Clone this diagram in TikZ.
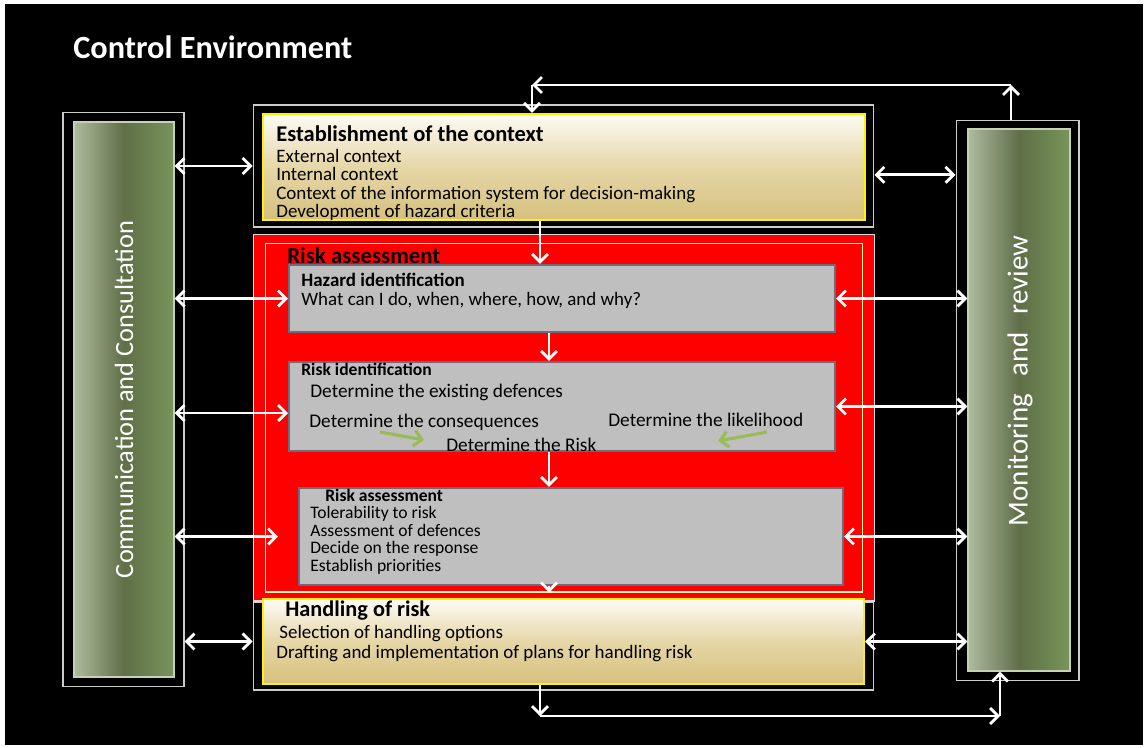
\documentclass[tikz,border=0pt]{standalone}
\usepackage{fontspec}
\setmainfont{Carlito}
\usetikzlibrary{arrows.meta}
\definecolor{greenL}{HTML}{AEBB9F}
\definecolor{greenM}{HTML}{5F6F48}
\definecolor{greenR}{HTML}{78955A}
\definecolor{greenE}{HTML}{C5D2B4}
\definecolor{goldT}{HTML}{FDFBF5}
\definecolor{goldM}{HTML}{E6D7A8}
\definecolor{goldB}{HTML}{D5C07C}
\definecolor{greyF}{HTML}{BFBFBF}
\definecolor{greyE}{HTML}{6C6C7E}
\definecolor{greenA}{HTML}{9BBB59}
\begin{document}
\begin{tikzpicture}[auto,x=0.02cm,y=-0.02cm,>={Straight Barb[length=4.5pt,width=9pt]}]
    \tikzstyle{frame} = [draw=white!80!black,line width=0.6pt,fill=black,rectangle,inner sep=0pt]
    \tikzstyle{greenbox} = [draw=greenE,line width=0.8pt,rectangle,inner sep=0pt,left color=greenL,right color=greenR,middle color=greenM]
    \tikzstyle{goldbox} = [draw=yellow,line width=1.2pt,rectangle,inner sep=0pt,top color=goldT,bottom color=goldB,middle color=goldM]
    \tikzstyle{redbox} = [draw=white!85!black,line width=0.6pt,fill=red,rectangle,inner sep=0pt]
    \tikzstyle{greybox} = [draw=greyE,line width=1.2pt,fill=greyF,rectangle,inner sep=0pt]
    \tikzstyle{txt} = [inner sep=0pt,anchor=west,font=\fontsize{10.8}{10.6}\selectfont]
    \tikzstyle{body} = [inner sep=0pt,anchor=north west,align=left,font=\fontsize{10.8}{10.6}\selectfont]
    \tikzstyle{head} = [txt,font=\bfseries\fontsize{12.8}{13}\selectfont]
    \tikzstyle{arr} = [white,line width=1.6pt,->]
    \tikzstyle{dbl} = [white,line width=1.6pt,<->]
    \tikzstyle{garr} = [draw=greenA,line width=1.8pt,->]

    \fill [white] (0,0) rectangle (1145,747);
    \fill [black] (5,4) rectangle (1143,745);
    \useasboundingbox (0,0) rectangle (1145,747);
    \node [head,white,font=\bfseries\fontsize{18.4}{20}\selectfont] (title) at (73,47) {Control Environment};

    % side columns
    \node [frame,minimum width=2.42cm,minimum height=11.5cm] (commframe) at (123.5,399.5) {};
    \node [greenbox,minimum width=2cm,minimum height=11.1cm] (comm) at (124,399.5) {};
    \node [rotate=90,white,font=\fontsize{15}{16}\selectfont] (commtext) at (comm) {Communication and Consultation};
    \node [frame,minimum width=2.46cm,minimum height=11.22cm] (monframe) at (1017.5,400.5) {};
    \node [greenbox,minimum width=2.04cm,minimum height=10.84cm] (mon) at (1019,400) {};
    \node [rotate=90,white,font=\fontsize{16.5}{17}\selectfont] (montext) at (1020,381) {Monitoring\hspace{0.6em}and\hspace{0.6em}review};

    % context
    \node [frame,minimum width=12.42cm,minimum height=2.44cm] (ctxframe) at (563.5,166) {};
    \node [goldbox,minimum width=12.04cm,minimum height=2.12cm] (ctx) at (564,167) {};
    \node [head] (ctxhead) at (276,134) {Establishment of the context};
    \node [body] (ctxbody) at (276,148.5) {External context\\Internal context\\Context of the information system for decision-making\\Development of hazard criteria};

    % risk assessment
    \node [frame,minimum width=12.42cm,minimum height=1.76cm] (hndframe) at (563.5,646) {};
    \node [redbox,minimum width=12.44cm,minimum height=7.34cm] (red) at (564,417.5) {};
    \node [draw=yellow!30!white,line width=0.6pt,rectangle,inner sep=0pt,minimum width=11.96cm,minimum height=6.98cm] (redin) at (564,417.5) {};
    \node [head,font=\bfseries\fontsize{13}{14}\selectfont] (redhead) at (287,256) {Risk assessment};

    \node [greybox,minimum width=10.92cm,minimum height=1.34cm] (haz) at (562,298.5) {};
    \node [head,font=\bfseries\fontsize{10.8}{12}\selectfont] (hazhead) at (301,280) {Hazard identification};
    \node [txt] (haz1) at (301,300) {What can I do, when, where, how, and why?};

    \node [greybox,minimum width=10.92cm,minimum height=1.78cm] (rid) at (562,406.5) {};
    \node [head,font=\bfseries\fontsize{10}{11}\selectfont] (ridhead) at (301,369) {Risk identification};
    \node [txt,font=\fontsize{11}{12}\selectfont] (rid1) at (310,392) {Determine the existing defences};
    \node [txt,font=\fontsize{11}{12}\selectfont] (rid2) at (309,422) {Determine the consequences};
    \node [txt,font=\fontsize{11}{12}\selectfont] (rid3) at (608,420) {Determine the likelihood};
    \node [txt,font=\fontsize{11}{12}\selectfont] (rid4) at (446,445) {Determine the Risk};
    \coordinate (g1) at (380,432);
    \coordinate (g2) at (424,440);
    \coordinate (g3) at (767,432);
    \coordinate (g4) at (718,441);
    \draw [garr] (g1) -- (g2);
    \draw [garr] (g3) -- (g4);

    \node [greybox,minimum width=10.88cm,minimum height=1.94cm] (ras) at (571,536.5) {};
    \node [head,font=\bfseries\fontsize{10}{11}\selectfont] (rashead) at (325,495) {Risk assessment};
    \node [body,font=\fontsize{10}{10}\selectfont] (rasbody) at (310,506) {Tolerability to risk\\Assessment of defences\\Decide on the response\\Establish priorities};

    % handling
    \node [goldbox,minimum width=12.02cm,minimum height=1.7cm] (hnd) at (563.5,641.5) {};
    \node [head,font=\bfseries\fontsize{12.7}{13}\selectfont] (hndhead) at (285,611) {Handling of risk};
    \node [txt] (hnd1) at (279,634) {Selection of handling options};
    \node [txt] (hnd2) at (276,654) {Drafting and implementation of plans for handling risk};

    % flow
    \coordinate (c1) at (540,0);
    \coordinate (c2) at (549,0);
    \draw [arr] (ctx.south -| c1) -- (haz.north -| c1);
    \draw [arr] (haz.south -| c2) -- (rid.north -| c2);
    \draw [arr] (rid.south -| c2) -- (ras.north -| c2);
    \draw [arr] (ras.south -| c2) -- (redin.south -| c2);

    \coordinate (tr) at (1011,85);
    \coordinate (tl) at (532,85);
    \draw [arr] (monframe.north -| tr) -- (tr);
    \draw [arr] (tr) -- (tl);
    \draw [arr] (tl) -- (ctx.north -| tl);
    \coordinate (bl) at (540,716);
    \coordinate (br) at (1000,716);
    \draw [arr] (hnd.south -| bl) -- (bl);
    \draw [arr] (bl) -- (br);
    \draw [arr] (br) -- (mon.south -| br);

    % consultation and review
    \draw [dbl] (comm.east |- ctxframe.west) -- (ctxframe.west);
    \draw [dbl] (comm.east |- haz.west) -- (haz.west);
    \coordinate (ridl) at ([yshift=-3.7pt]rid.west);
    \draw [dbl] (comm.east |- ridl) -- (ridl);
    \draw [dbl,shorten >=0.4cm] (comm.east |- ras.west) -- (ras.west);
    \draw [dbl] (commframe.east |- hnd.west) -- (hndframe.west |- hnd.west);
    \coordinate (ctxr) at ([yshift=-5pt]ctxframe.east);
    \draw [dbl] (ctxr) -- (monframe.west |- ctxr);
    \draw [dbl] (haz.east) -- (mon.west |- haz.east);
    \draw [dbl] (rid.east) -- (mon.west |- rid.east);
    \draw [dbl] (ras.east) -- (mon.west |- ras.east);
    \draw [dbl] (hnd.east) -- (mon.west |- hnd.east);
\end{tikzpicture}
\end{document}
